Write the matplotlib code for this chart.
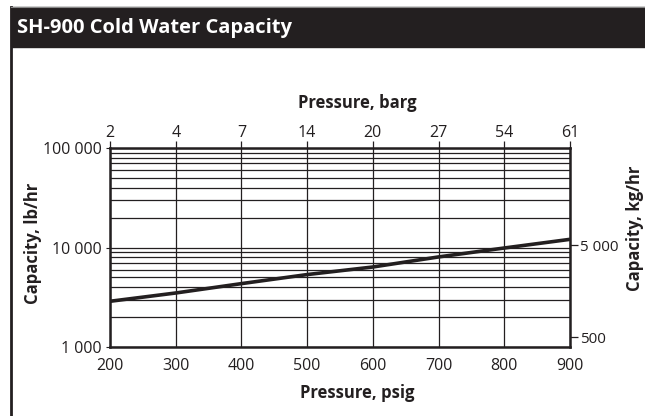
import matplotlib
matplotlib.use('Agg')
import matplotlib.pyplot as plt
from matplotlib.ticker import FixedLocator, LogLocator, NullFormatter
from matplotlib.patches import Rectangle
from matplotlib.lines import Line2D

plt.rcParams['font.family'] = ['Open Sans', 'DejaVu Sans']
plt.rcParams['font.size'] = 11

# data
pressure_psig = [200, 300, 400, 500, 600, 700, 800, 900]
capacity_lb_hr = [2880, 3490, 4335, 5345, 6370, 8040, 9885, 12080]

# top axis: barg labels at the psig gridlines
barg_labels = ['2', '4', '7', '14', '20', '27', '54', '61']
# right axis: kg/hr labels, placed at the lb/hr heights seen in the chart
kg_tick_pos_lb = [1260, 10500]
kg_tick_labels = ['500', '5 000']

lb_ticks = [1000, 10000, 100000]
lb_labels = ['1 000', '10 000', '100 000']

W, H = 645, 416
ink = '#231f20'
fig = plt.figure(figsize=(W / 100, H / 100), dpi=100)

# frame and header band
fig.patches.append(Rectangle((11 / W, 1 - 47 / H), 1 - 11 / W, 40 / H,
                             transform=fig.transFigure, color=ink, zorder=0))
fig.lines.append(Line2D([11 / W, 11 / W], [0, 1 - 7 / H], transform=fig.transFigure,
                        color=ink, lw=2))
fig.lines.append(Line2D([11 / W, 1], [1 - 7 / H, 1 - 7 / H], transform=fig.transFigure,
                        color='#888888', lw=0.8))
fig.text(17 / W, 1 - 28 / H, 'SH-900 Cold Water Capacity', color='white',
         fontsize=14.5, fontweight='bold', va='center', ha='left')

ax = fig.add_axes([110 / W, 1 - 347 / H, 460 / W, 199 / H])
ax.plot(pressure_psig, capacity_lb_hr, color=ink, lw=2.6, solid_capstyle='butt', zorder=3)
ax.set_yscale('log')
ax.set_xlim(200, 900)
ax.set_ylim(1000, 100000)

ax.set_xticks(pressure_psig)
ax.set_yticks(lb_ticks)
ax.set_yticklabels(lb_labels)
ax.yaxis.set_minor_locator(LogLocator(base=10, subs=range(2, 10)))
ax.yaxis.set_minor_formatter(NullFormatter())
ax.grid(True, which='both', color=ink, lw=0.9)
ax.tick_params(axis='x', length=0, pad=8, labelsize=11.5, colors=ink)
ax.tick_params(axis='y', which='major', length=3, pad=3, labelsize=11.5, colors=ink)
ax.tick_params(axis='y', which='minor', length=0)
for s in ax.spines.values():
    s.set_linewidth(1.8)
    s.set_color(ink)

top = ax.secondary_xaxis('top')
top.set_xticks(pressure_psig)
top.set_xticklabels(barg_labels)
top.tick_params(length=5, width=0.9, pad=0, labelsize=11.5, colors=ink)
top.spines['top'].set_visible(False)

right = ax.twinx()
right.set_yscale('log')
right.set_ylim(ax.get_ylim())
right.yaxis.set_minor_locator(FixedLocator([]))
right.set_yticks(kg_tick_pos_lb)
right.set_yticklabels(kg_tick_labels)
right.tick_params(axis='y', length=6, width=0.9, pad=1, labelsize=11, colors=ink)
for s in right.spines.values():
    s.set_visible(False)

# axis titles
lab = dict(fontsize=12, fontweight='bold', color=ink, ha='center', va='center')
fig.text(357 / W, 1 - 103 / H, 'Pressure, barg', **lab)
fig.text(357 / W, 1 - 393 / H, 'Pressure, psig', **lab)
fig.text(33 / W, 1 - 243 / H, 'Capacity, lb/hr', rotation=90, **lab)
fig.text(635 / W, 1 - 228 / H, 'Capacity, kg/hr', rotation=90, **lab)

fig.savefig('out.png', dpi=100)
